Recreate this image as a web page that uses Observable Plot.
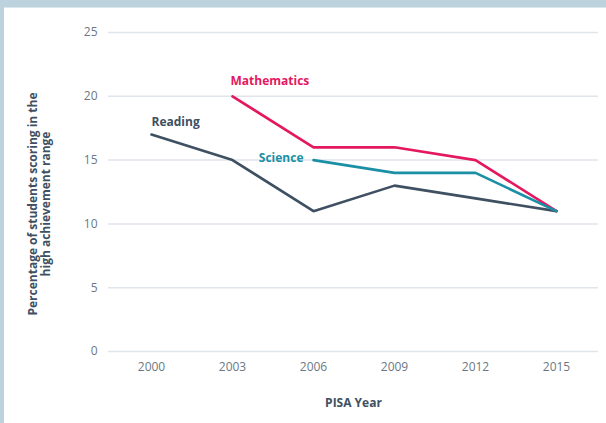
<!DOCTYPE html>
<html>
<head>
<meta charset="utf-8">
<script src="https://cdn.jsdelivr.net/npm/d3@7"></script>
<script src="https://cdn.jsdelivr.net/npm/@observablehq/plot@0.6"></script>
<style>
  html, body { margin: 0; padding: 0; background: #fff; }
  #wrap { position: relative; width: 606px; height: 423px; overflow: hidden; font-family: "Open Sans", sans-serif; }
  #topband { position: absolute; left: 0; top: 0; width: 606px; height: 7px; background: #bcd2dd; border-bottom: 1px solid #dbe6ec; }
  #leftband { position: absolute; left: 0; top: 0; width: 4px; height: 423px; background: #bcd2dd; }
  #chart { position: absolute; left: 0; top: 0; }
</style>
</head>
<body>
<div id="wrap"><div id="chart"></div><div id="topband"></div><div id="leftband"></div></div>
<script>
const years = ["2000", "2003", "2006", "2009", "2012", "2015"];
const reading = [17, 15, 11, 13, 12, 11];
const mathematics = [null, 20, 16, 16, 15, 11];
const science = [null, null, 15, 14, 14, 11];
const subjects = ["Reading", "Mathematics", "Science"];
const colors = ["#3e5061", "#e4185f", "#1a8fa5"];
const yTicks = [0, 5, 10, 15, 20, 25];

const series = [reading, mathematics, science];
const rows = [];
series.forEach((vals, i) => {
  vals.forEach((v, j) => { if (v != null) rows.push({subject: subjects[i], year: years[j], value: v}); });
});
const firstPoint = subjects.map(s => rows.find(r => r.subject === s));
const labelOf = s => firstPoint.filter(d => d.subject === s);

const plot = Plot.plot({
  width: 606,
  height: 423,
  marginLeft: 108,
  marginRight: 8,
  marginTop: 32,
  marginBottom: 72,
  style: { fontFamily: "Open Sans, sans-serif", fontSize: "12px", color: "#6b7885", background: "transparent" },
  x: { type: "point", domain: years, padding: 0.5 },
  y: { domain: [0, 25] },
  color: { domain: subjects, range: colors },
  marks: [
    Plot.gridY(yTicks, { stroke: "#dfe5ea", strokeOpacity: 1, strokeWidth: 1.5 }),
    Plot.axisY(yTicks, { tickSize: 0, tickPadding: 11, label: null, fontSize: 12 }),
    Plot.axisX(years, { tickSize: 0, tickPadding: 11, label: "PISA Year", labelAnchor: "center", labelOffset: 55, fontSize: 12 }),
    Plot.line(rows, { x: "year", y: "value", z: "subject", stroke: "subject", strokeWidth: 2.6, strokeLinejoin: "miter" }),
    Plot.text(labelOf("Reading"), {
      x: "year", y: "value", text: "subject", fill: "subject",
      textAnchor: "start", dy: -12, fontWeight: "bold", fontSize: 12
    }),
    Plot.text(labelOf("Mathematics"), {
      x: "year", y: "value", text: "subject", fill: "subject",
      textAnchor: "start", dx: -2, dy: -15, fontWeight: "bold", fontSize: 12
    }),
    Plot.text(labelOf("Science"), {
      x: "year", y: "value", text: "subject", fill: "subject",
      textAnchor: "end", dx: -10, dy: -2, fontWeight: "bold", fontSize: 12
    }),
    Plot.text(["Percentage of students scoring in the\nhigh achievement range"], {
      frameAnchor: "left", textAnchor: "middle", rotate: -90, dx: -69, dy: 12, fill: "#3e5061",
      fontWeight: "bold", fontSize: 12, lineHeight: 1.1
    })
  ]
});
document.getElementById("chart").appendChild(plot);
const lab = plot.querySelectorAll("g[aria-label='x-axis label'] text");
lab.forEach(t => { t.setAttribute("fill", "#3e5061"); t.style.fontWeight = "bold"; t.style.fontSize = "12px"; });
</script>
</body>
</html>
